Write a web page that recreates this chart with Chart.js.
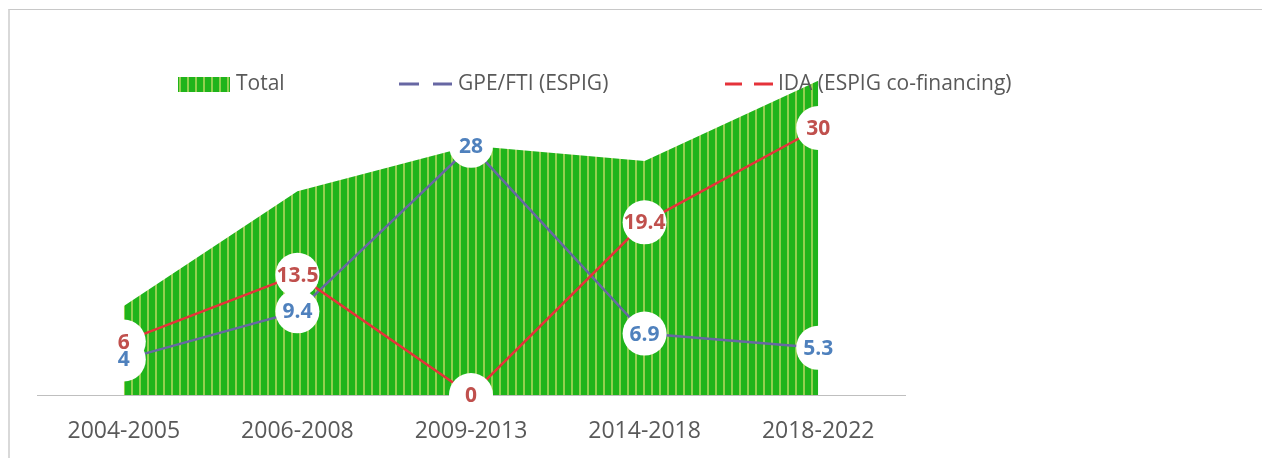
<!DOCTYPE html>
<html>
<head>
<meta charset="utf-8">
<script src="https://cdn.jsdelivr.net/npm/chart.js@4"></script>
<style>
  body { margin: 0; background: #fff; }
  #wrap { position: relative; width: 1262px; height: 458px; }
  #frame {
    position: absolute; left: 8px; top: 9px; right: -2px; bottom: -2px;
    border-top: 1px solid #C8C8C8; border-left: 2px solid #D9D9D9;
  }
  canvas { position: absolute; left: 0; top: 0; }
</style>
</head>
<body>
<div id="wrap">
  <div id="frame"></div>
  <canvas id="grafico" width="1262" height="458"></canvas>
</div>
<script>
const periodos = ["2004-2005", "2006-2008", "2009-2013", "2014-2018", "2018-2022"];
const total = [10, 22.9, 28, 26.3, 35.3];
const gpe = [4, 9.4, 28, 6.9, 5.3];
const ida = [6, 13.5, 0, 19.4, 30];

const VERDE = "#20B41B";
const RAYA = "#92D050";
const MORADO = "#6767A3";
const ROJO = "#E5323A";
const AZUL_TXT = "#4F81BD";
const ROJO_TXT = "#C0504D";
const GRIS = "#595959";

// patron de rayas verticales para el area
function crearPatron(ctx) {
  const c = document.createElement("canvas");
  c.width = 8;
  c.height = 8;
  const p = c.getContext("2d");
  p.fillStyle = VERDE;
  p.fillRect(0, 0, 8, 8);
  p.fillStyle = RAYA;
  p.fillRect(3, 0, 2, 8);
  return ctx.createPattern(c, "repeat");
}

const ctx = document.getElementById("grafico").getContext("2d");
const patron = crearPatron(ctx);

// circulos blancos con los valores encima de las lineas
const etiquetas = {
  id: "etiquetas",
  afterDatasetsDraw(chart) {
    const c = chart.ctx;
    const series = [
      { idx: 1, color: AZUL_TXT },
      { idx: 2, color: ROJO_TXT },
    ];
    c.save();
    c.fillStyle = "#fff";
    series.forEach((s) => {
      chart.getDatasetMeta(s.idx).data.forEach((pt) => {
        c.beginPath();
        c.arc(pt.x, pt.y, 22, 0, Math.PI * 2);
        c.fill();
      });
    });
    c.font = "bold 21px 'Open Sans'";
    c.textAlign = "center";
    c.textBaseline = "middle";
    series.forEach((s) => {
      const valores = chart.data.datasets[s.idx].data;
      c.fillStyle = s.color;
      chart.getDatasetMeta(s.idx).data.forEach((pt, i) => {
        c.fillText(String(valores[i]), pt.x, pt.y + 1);
      });
    });
    c.restore();
  },
};

// leyenda dibujada a mano (posiciones como en el original)
const leyenda = {
  id: "leyenda",
  afterDraw(chart) {
    const c = chart.ctx;
    const y = 84;
    c.save();
    c.fillStyle = patron;
    c.fillRect(178, 77, 52, 15);
    c.font = "21px 'Open Sans'";
    c.textBaseline = "middle";
    c.fillStyle = GRIS;
    c.fillText(chart.data.datasets[0].label, 236, y);

    c.lineWidth = 3;
    c.strokeStyle = MORADO;
    c.beginPath();
    c.moveTo(399, y); c.lineTo(419, y);
    c.moveTo(433, y); c.lineTo(452, y);
    c.stroke();
    c.fillText(chart.data.datasets[1].label, 458, y);

    c.strokeStyle = ROJO;
    c.beginPath();
    c.moveTo(725, y); c.lineTo(742, y);
    c.moveTo(754, y); c.lineTo(773, y);
    c.stroke();
    c.fillStyle = GRIS;
    c.fillText(chart.data.datasets[2].label, 778, y);
    c.restore();
  },
};

new Chart(ctx, {
  type: "line",
  data: {
    labels: periodos,
    datasets: [
      {
        label: "Total",
        data: total,
        backgroundColor: patron,
        borderWidth: 0,
        fill: "origin",
        pointRadius: 0,
        tension: 0,
        order: 3,
      },
      {
        label: "GPE/FTI (ESPIG)",
        data: gpe,
        borderColor: MORADO,
        borderWidth: 2.5,
        fill: false,
        pointRadius: 0,
        tension: 0,
        order: 2,
      },
      {
        label: "IDA (ESPIG co-financing)",
        data: ida,
        borderColor: ROJO,
        borderWidth: 2.5,
        fill: false,
        pointRadius: 0,
        tension: 0,
        order: 1,
      },
    ],
  },
  options: {
    responsive: false,
    animation: false,
    layout: { padding: { left: 37, right: 357, top: 39, bottom: 0 } },
    plugins: {
      legend: { display: false },
      tooltip: { enabled: false },
    },
    scales: {
      x: {
        offset: true,
        grid: { display: false, drawTicks: false },
        border: { display: true, color: "#BFBFBF", width: 1 },
        ticks: {
          color: GRIS,
          padding: 23,
          font: { family: "'Open Sans'", size: 23 },
          maxRotation: 0,
        },
        afterFit(scale) {
          scale.height = 63;
        },
      },
      y: {
        display: false,
        min: 0,
        max: 40,
      },
    },
  },
  plugins: [etiquetas, leyenda],
});
</script>
</body>
</html>
